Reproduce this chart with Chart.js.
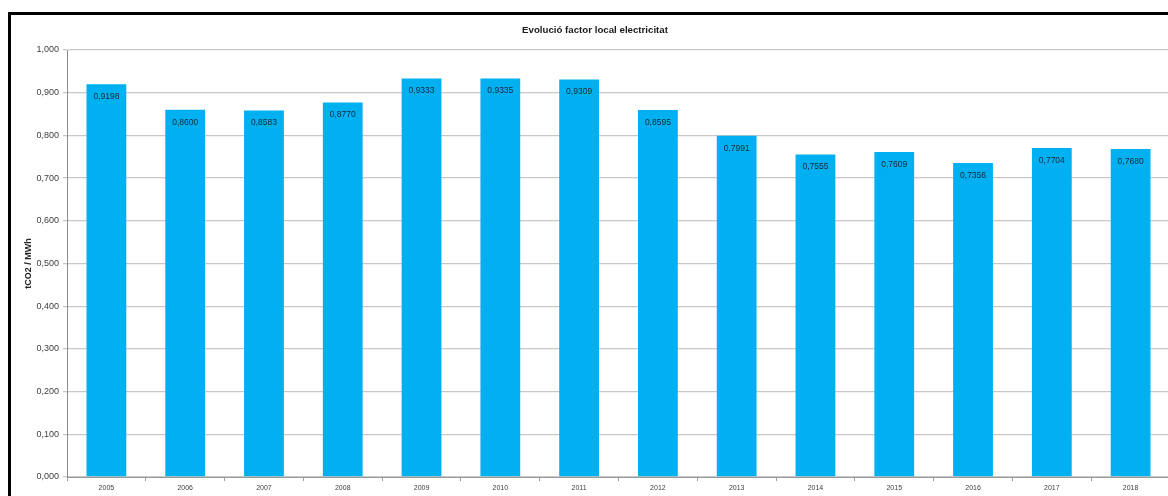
<!DOCTYPE html>
<html>
<head>
<meta charset="utf-8">
<script src="https://cdn.jsdelivr.net/npm/chart.js@4.4.1/dist/chart.umd.min.js"></script>
<style>
    html, body { margin: 0; padding: 0; background: #fff; overflow: hidden; }
    #frame {
        position: absolute; left: 8px; top: 12px;
        width: 1180px; height: 484px;
        border-left: 3px solid #000; border-top: 3px solid #000;
    }
    #chart { display: block; }
</style>
</head>
<body>
<div id="frame"><canvas id="chart" width="1180" height="481"></canvas></div>
<script>
var chartTitle = 'Evolució factor local electricitat';
var axisTitle = 'tCO2 / MWh';
var years = ['2005', '2006', '2007', '2008', '2009', '2010', '2011',
             '2012', '2013', '2014', '2015', '2016', '2017', '2018'];
var factor = [0.9198, 0.8600, 0.8583, 0.8770, 0.9333, 0.9335, 0.9309,
              0.8595, 0.7991, 0.7555, 0.7609, 0.7356, 0.7704, 0.7680];

var FONT = "'Liberation Sans', Arial, sans-serif";

function comma(v, d){
    return v.toFixed(d).replace('.', ',');
}

// value printed just under the top of each bar
var barLabels = {
    id: 'barLabels',
    afterDatasetsDraw: function(chart){
        var ctx = chart.ctx;
        var meta = chart.getDatasetMeta(0);
        ctx.save();
        ctx.font = '8.5px ' + FONT;
        ctx.fillStyle = '#1a2836';
        ctx.textAlign = 'center';
        ctx.textBaseline = 'middle';
        meta.data.forEach(function(bar, i){
            ctx.fillText(comma(factor[i], 4), bar.x, bar.y + 12.5);
        });
        ctx.restore();
    }
};

var topTitle = {
    id: 'topTitle',
    afterDraw: function(chart){
        var ctx = chart.ctx;
        ctx.save();
        ctx.font = 'bold 9.7px ' + FONT;
        ctx.fillStyle = '#1a1a1a';
        ctx.textAlign = 'center';
        ctx.textBaseline = 'middle';
        ctx.fillText(chartTitle, 584, 15);
        ctx.restore();
    }
};

var ctx = document.getElementById('chart').getContext('2d');
var myChart = new Chart(ctx, {
    type: 'bar',
    data: {
        labels: years,
        datasets: [{
            data: factor,
            backgroundColor: '#00b0f0',
            borderWidth: 0,
            barPercentage: 0.505,
            categoryPercentage: 1
        }]
    },
    options: {
        responsive: false,
        animation: false,
        layout: { padding: { top: 35, left: 0, right: 21, bottom: 3 } },
        plugins: {
            legend: { display: false },
            title: { display: false },
            tooltip: { enabled: false }
        },
        scales: {
            x: {
                offset: true,
                grid: {
                    display: true,
                    drawOnChartArea: false,
                    offset: true,
                    tickLength: 4,
                    color: '#9a9a9a'
                },
                border: { display: true, color: '#9a9a9a' },
                ticks: {
                    padding: 3,
                    color: '#404040',
                    font: { family: FONT, size: 7 },
                    maxRotation: 0
                },
                afterFit: function(s){ s.height = 16; }
            },
            y: {
                min: 0,
                max: 1,
                ticks: {
                    stepSize: 0.1,
                    padding: 4,
                    color: '#404040',
                    font: { family: FONT, size: 9 },
                    callback: function(v){ return comma(v, 3); }
                },
                grid: {
                    color: '#c8c8c8',
                    lineWidth: 1.3,
                    tickLength: 4
                },
                border: { display: true, color: '#8c8c8c' },
                title: {
                    display: true,
                    text: axisTitle,
                    color: '#262626',
                    font: { family: FONT, size: 9, weight: 'bold' },
                    padding: { top: 12, bottom: 0 }
                },
                afterFit: function(s){ s.width = 56; }
            }
        }
    },
    plugins: [barLabels, topTitle]
});
</script>
</body>
</html>
